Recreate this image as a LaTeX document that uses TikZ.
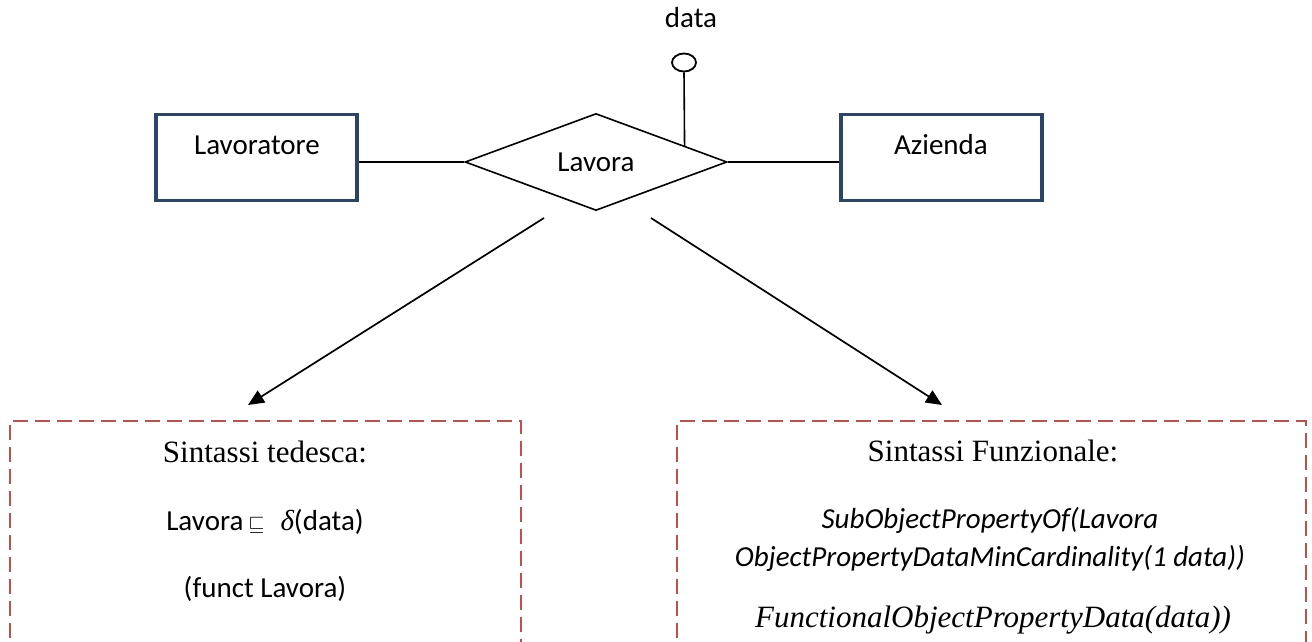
\documentclass[tikz,border=0pt]{standalone}
\usepackage{fontspec}
\setmainfont{Liberation Serif}
\newfontfamily\calibrifont{Carlito}
\usetikzlibrary{shapes.geometric,arrows.meta,calc}
\definecolor{entblue}{RGB}{44,68,104}
\definecolor{dashred}{RGB}{192,80,77}
\begin{document}
\begin{tikzpicture}[x=1pt,y=-1pt,
  entity/.style={draw=entblue,line width=3.5pt,minimum width=201pt,minimum height=86pt,inner sep=0pt},
  relation/.style={draw,diamond,line width=1.6pt,minimum width=262pt,minimum height=97pt,inner sep=0pt,font=\calibrifont\fontsize{29}{34}\selectfont},
  attrib/.style={draw,ellipse,line width=1.8pt,minimum width=24pt,minimum height=18pt,inner sep=0pt},
  link/.style={line width=2pt},
  arrowline/.style={line width=1.7pt,-{Triangle[length=16pt,width=14pt]}},
  sanstext/.style={anchor=base,inner sep=0pt,font=\calibrifont\fontsize{29}{34}\selectfont},
  sansit/.style={anchor=base,inner sep=0pt,font=\calibrifont\itshape\fontsize{29}{34}\selectfont},
  sertext/.style={anchor=base,inner sep=0pt,font=\fontsize{31}{36}\selectfont},
  serit/.style={anchor=base,inner sep=0pt,font=\itshape\fontsize{31}{36}\selectfont},
  dashbox/.style={draw=dashred,line width=2pt,dash pattern=on 15pt off 7pt}
]
\useasboundingbox (0,0) rectangle (1312,642);
\clip (0,0) rectangle (1312,642);
% entities
\node[entity] (lav) at (256.5,157.5) {};
\node[entity] (az) at (941.5,157.5) {};
\node[sanstext] (lavt) at (257,154) {Lavoratore};
\node[sanstext] (azt) at (941,154) {Azienda};
% relation
\node[relation] (rel) at (596,162) {Lavora};
% attribute
\node[attrib] (att) at (684,62.5) {};
\node[sanstext] (attt) at (691,28) {data};
\coordinate (attfoot) at ($(rel.north)!0.672!(rel.east)$);
\draw[link,line width=1.6pt] (att.south) -- (attfoot);
% links
\draw[link] (rel.west -| lav.east) -- (rel.west);
\draw[link] (rel.east) -- (rel.east -| az.west);
% arrows
\coordinate (a1s) at (544,218);
\coordinate (a1e) at (248,405);
\coordinate (a2s) at (651,218);
\coordinate (a2e) at (942,405);
\draw[arrowline] (a1s) -- (a1e);
\draw[arrowline] (a2s) -- (a2e);
% dashed boxes
\draw[dashbox] (10,660) -- (10,421) -- (521,421) -- (521,660);
\draw[dashbox] (677,660) -- (677,421) -- (1306,421) -- (1306,660);
% left texts
\node[sertext] (t1) at (265,462) {Sintassi tedesca:};
\node[sanstext] (t2) at (265,530) {Lavora\,{\fontsize{22}{26}\selectfont$\sqsubseteq$}\;\;{\rmfamily\itshape δ}(data)};
\node[sanstext] (t3) at (265,597) {(funct Lavora)};
% right texts
\node[sertext] (r1) at (993,461) {Sintassi Funzionale:};
\node[sansit] (r2) at (990,528) {SubObjectPropertyOf(Lavora};
\node[sansit] (r3) at (990,566) {ObjectPropertyDataMinCardinality(1 data))};
\node[serit] (r4) at (993,627) {FunctionalObjectPropertyData(data))};
\end{tikzpicture}
\end{document}
